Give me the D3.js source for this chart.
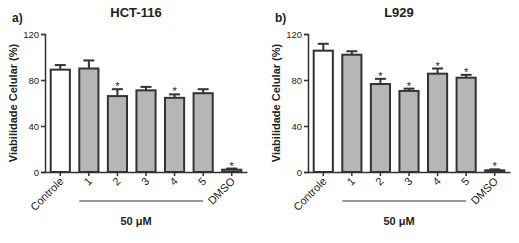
<!DOCTYPE html>
<html>
<head>
<meta charset="utf-8">
<script src="https://cdn.jsdelivr.net/npm/d3@7"></script>
<style>
  body { margin: 0; background: #fff; }
  text { font-family: "Liberation Sans", Arial, sans-serif; fill: #222; }
</style>
</head>
<body>
<svg id="chart" width="519" height="243"></svg>
<script>
const categories = ["Controle", "1", "2", "3", "4", "5", "DMSO"];
const yTicks = [0, 40, 80, 120];

// HCT-116
const hctMean = [89, 90, 66, 71, 64.5, 68.5, 2];
const hctErr  = [4, 7, 6, 3, 3, 3.5, 1];
const hctStar = [false, false, true, false, true, false, true];

// L929
const l929Mean = [105.5, 102, 76.5, 70.5, 85.5, 82, 1.5];
const l929Err  = [6, 3, 4.5, 2, 4.5, 2.5, 0.8];
const l929Star = [false, false, true, true, true, true, true];

const svg = d3.select("#chart");

function drawPanel(opts) {
    const g = svg.append("g");
    const x = d3.scaleBand()
        .domain(categories)
        .range([opts.x0, opts.x0 + 202])
        .paddingInner(0.33)
        .paddingOuter(0.2);
    const y = d3.scaleLinear().domain([0, 120]).range([172, 34]);

    // y axis
    const yAxis = d3.axisLeft(y).tickValues(yTicks).tickSize(4).tickPadding(2);
    const ya = g.append("g").attr("transform", `translate(${opts.x0},0)`).call(yAxis);
    ya.select(".domain").attr("stroke", "#333").attr("stroke-width", 1.5);
    ya.selectAll(".tick line").attr("stroke", "#333").attr("stroke-width", 1.5);
    ya.selectAll(".tick text").style("font-size", "9.5px").attr("fill", "#222");

    // x axis
    const xAxis = d3.axisBottom(x).tickSize(4).tickSizeOuter(0).tickFormat("");
    const xa = g.append("g").attr("transform", "translate(0,172)").call(xAxis);
    xa.select(".domain").attr("stroke", "#333").attr("stroke-width", 1.5);
    xa.selectAll(".tick line").attr("stroke", "#333").attr("stroke-width", 1.5);

    g.selectAll("text.xlab")
        .data(categories)
        .enter().append("text")
        .attr("class", "xlab")
        .attr("text-anchor", "end")
        .attr("transform", d => `translate(${x(d) + x.bandwidth() / 2 + 4},182) rotate(-45)`)
        .style("font-size", "11px")
        .text(d => d);

    // error bars (upper only)
    const capW = 11;
    const errs = g.append("g");
    categories.forEach((c, i) => {
        const cx = x(c) + x.bandwidth() / 2;
        errs.append("line")
            .attr("x1", cx).attr("x2", cx)
            .attr("y1", y(opts.mean[i])).attr("y2", y(opts.mean[i] + opts.err[i]))
            .attr("stroke", "#333").attr("stroke-width", 2);
        errs.append("line")
            .attr("x1", cx - capW / 2).attr("x2", cx + capW / 2)
            .attr("y1", y(opts.mean[i] + opts.err[i])).attr("y2", y(opts.mean[i] + opts.err[i]))
            .attr("stroke", "#333").attr("stroke-width", 2);
    });

    // bars
    g.selectAll("rect.bar")
        .data(categories)
        .enter().append("rect")
        .attr("class", "bar")
        .attr("x", d => x(d))
        .attr("width", x.bandwidth())
        .attr("y", (d, i) => y(opts.mean[i]))
        .attr("height", (d, i) => y(0) - y(opts.mean[i]))
        .attr("fill", (d, i) => i === 0 ? "#ffffff" : "#b6b6b6")
        .attr("stroke", "#333")
        .attr("stroke-width", 2);

    // asterisks
    g.selectAll("text.star")
        .data(categories.filter((d, i) => opts.star[i]))
        .enter().append("text")
        .attr("class", "star")
        .attr("text-anchor", "middle")
        .attr("x", d => x(d) + x.bandwidth() / 2)
        .attr("y", d => {
            const i = categories.indexOf(d);
            return y(opts.mean[i] + opts.err[i]) + 1;
        })
        .style("font-size", "11px")
        .attr("fill", "#444")
        .text("*");

    // line under compounds 1-5
    g.append("line")
        .attr("x1", x("1")).attr("x2", x("5") + x.bandwidth() / 2)
        .attr("y1", 201).attr("y2", 201)
        .attr("stroke", "#333").attr("stroke-width", 1);

    g.append("text")
        .attr("x", opts.titleX).attr("y", 225)
        .attr("text-anchor", "middle")
        .style("font-size", "11px").style("font-weight", "bold")
        .text("50 \u03bcM");

    // y label
    g.append("text")
        .attr("transform", `translate(${opts.x0 - 28},103) rotate(-90)`)
        .attr("text-anchor", "middle")
        .style("font-size", "11px").style("font-weight", "bold")
        .attr("fill", "#333")
        .text("Viabilidade Celular (%)");

    // titles
    g.append("text")
        .attr("x", opts.titleX).attr("y", 17)
        .attr("text-anchor", "middle")
        .style("font-size", "13px").style("font-weight", "bold")
        .text(opts.title);
    g.append("text")
        .attr("x", opts.x0 - 33).attr("y", 22)
        .style("font-size", "12px").style("font-weight", "bold")
        .text(opts.letter);
}

drawPanel({ x0: 45, mean: hctMean, err: hctErr, star: hctStar, title: "HCT-116", titleX: 136, letter: "a)" });
drawPanel({ x0: 308, mean: l929Mean, err: l929Err, star: l929Star, title: "L929", titleX: 399, letter: "b)" });
</script>
</body>
</html>
